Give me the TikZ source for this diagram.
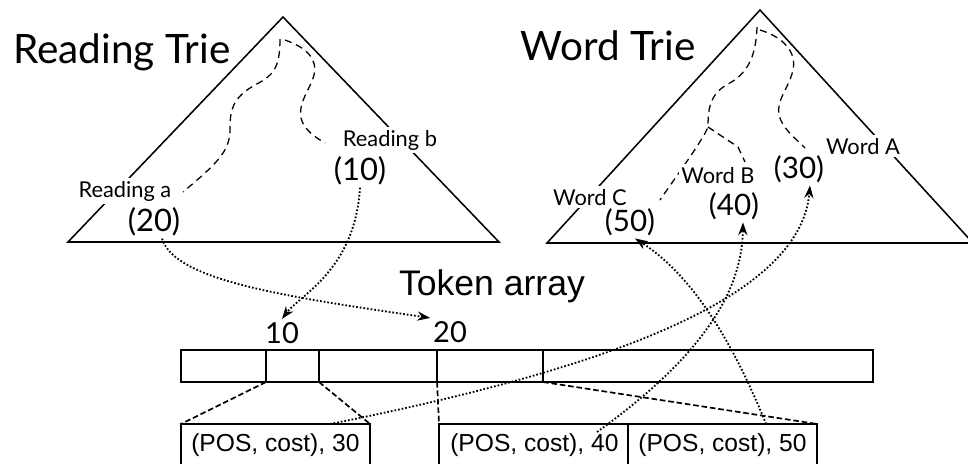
\documentclass[tikz,border=0pt]{standalone}
\usepackage{fontspec}
\setmainfont{Liberation Sans}
\newfontfamily\triefont{Lato}
\usetikzlibrary{positioning,calc,arrows.meta}

\begin{document}
\begin{tikzpicture}[x=0.025cm,y=-0.025cm,
  trie/.style={line width=1.1pt},
  walk/.style={line width=0.9pt, dash pattern=on 5pt off 3.5pt},
  tlabel/.style={fill=white, inner sep=2pt, anchor=base, font=\triefont\fontsize{15.5}{18}\selectfont},
  tnum/.style={inner sep=2pt, anchor=base, font=\triefont\fontsize{21}{24}\selectfont},
  cell/.style={draw, line width=1.3pt, minimum height=0.8cm, inner sep=0pt, outer sep=0pt},
  entry/.style={draw, line width=1.3pt, minimum width=4.725cm, minimum height=1.05cm, inner sep=0pt, outer sep=0pt, anchor=north west},
  etext/.style={anchor=west, inner sep=0pt, font=\fontsize{17.5}{20}\selectfont},
  split/.style={line width=1.2pt, dash pattern=on 4pt off 2pt},
  link/.style={line width=1.3pt, dash pattern=on 1.2pt off 1.4pt, -{Stealth[length=9pt,width=6.5pt]}}]

\useasboundingbox (0,0) rectangle (968,463);
\clip (0,0) rectangle (968,463);

% reading trie
\draw [trie] (68,242) -- (283,17) -- (499,242) -- cycle;
\node [anchor=base, font=\triefont\fontsize{28.8}{32}\selectfont] (rtitle) at (122,63) {Reading Trie};
\draw [walk] (280,39) .. controls (280,70) and (272,76) .. (255,85)
  .. controls (232,98) and (230,110) .. (230,130)
  .. controls (230,152) and (215,165) .. (183,192);
\draw [walk] (285,40) .. controls (305,47) and (318,58) .. (314,75)
  .. controls (310,90) and (298,102) .. (301,118)
  .. controls (304,130) and (315,137) .. (325,143);
\node [tlabel] (ra) at (125,197) {Reading a};
\node [tlabel] (rb) at (390,146) {Reading b};
\node [tnum, font=\triefont\fontsize{22}{26}\selectfont] (n20) at (154,231) {(20)};
\node [tnum, font=\triefont\fontsize{22}{26}\selectfont] (n10) at (360,180) {(10)};

% word trie
\draw [trie] (547,243) -- (760,10) -- (973,243) -- cycle;
\node [anchor=base, font=\triefont\fontsize{28.8}{32}\selectfont] (wtitle) at (608,60) {Word Trie};
\draw [walk] (757,27) .. controls (756,60) and (745,75) .. (728,84)
  .. controls (710,94) and (708,108) .. (708,127) coordinate (wb)
  .. controls (703,140) and (675,178) .. (660,200);
\draw [walk] (wb) -- (738,147) -- (745,162);
\draw [walk] (760,30) .. controls (783,37) and (797,52) .. (793,70)
  .. controls (789,88) and (776,100) .. (779,115)
  .. controls (782,128) and (795,138) .. (805,148);
\node [tlabel] (wa) at (863,154) {Word A};
\node [tlabel] (wbl) at (718,183) {Word B};
\node [tlabel] (wc) at (590,205) {Word C};
\node [tnum] (n30) at (799,178) {(30)};
\node [tnum] (n40) at (734,215) {(40)};
\node [tnum] (n50) at (630,231) {(50)};

% token array
\node [anchor=base, font=\fontsize{25.3}{30}\selectfont] (ttitle) at (492,295) {Token array};
\node [tnum, font=\triefont\fontsize{20.6}{24}\selectfont] (k10) at (282,343) {10};
\node [tnum, font=\triefont\fontsize{20.6}{24}\selectfont] (k20) at (450,342) {20};

\node [cell, minimum width=2.125cm, anchor=north west] (c1) at (181,350) {};
\node [cell, minimum width=1.325cm, right=0pt of c1] (c2) {};
\node [cell, minimum width=2.95cm, right=0pt of c2] (c3) {};
\node [cell, minimum width=2.65cm, right=0pt of c3] (c4) {};
\node [cell, minimum width=8.25cm, right=0pt of c4] (c5) {};

\node [entry] (box1) at (181,424) {};
\node [entry] (box2) at (439,424) {};
\node [entry, right=0pt of box2] (box3) {};
\node [etext] (e30) at ($(box1.west)+(10,0)$) {(POS, cost), 30};
\node [etext] (e40) at ($(box2.west)+(11,0)$) {(POS, cost), 40};
\node [etext] (e50) at ($(box3.west)+(10,0)$) {(POS, cost), 50};

\draw [split] (c2.south west) -- (box1.north west);
\draw [split] (c2.south east) -- (box1.north east);
\draw [split] (c4.south west) -- (box2.north west);
\draw [split] (c4.south east) -- (box3.north east);

% links
\draw [link] (n10.south) .. controls (355,270) and (300,295) .. (k10.north);
\draw [link] ($(n20.south)+(8,0)$) .. controls (175,280) and (280,296) .. (k20.north west);
\draw [link] ($(box1.north east)+(-40,0)$) .. controls (600,370) and (800,300) .. ($(n30.south)+(11,0)$);
\draw [link] ($(box2.north east)+(-31,8)$) .. controls (690,365) and (742,300) .. ($(n40.south)+(9,0)$);
\draw [link] ($(box3.north east)+(-51,0)$) .. controls (740,360) and (700,280) .. ($(n50.south)+(5,0)$);
\end{tikzpicture}
\end{document}
